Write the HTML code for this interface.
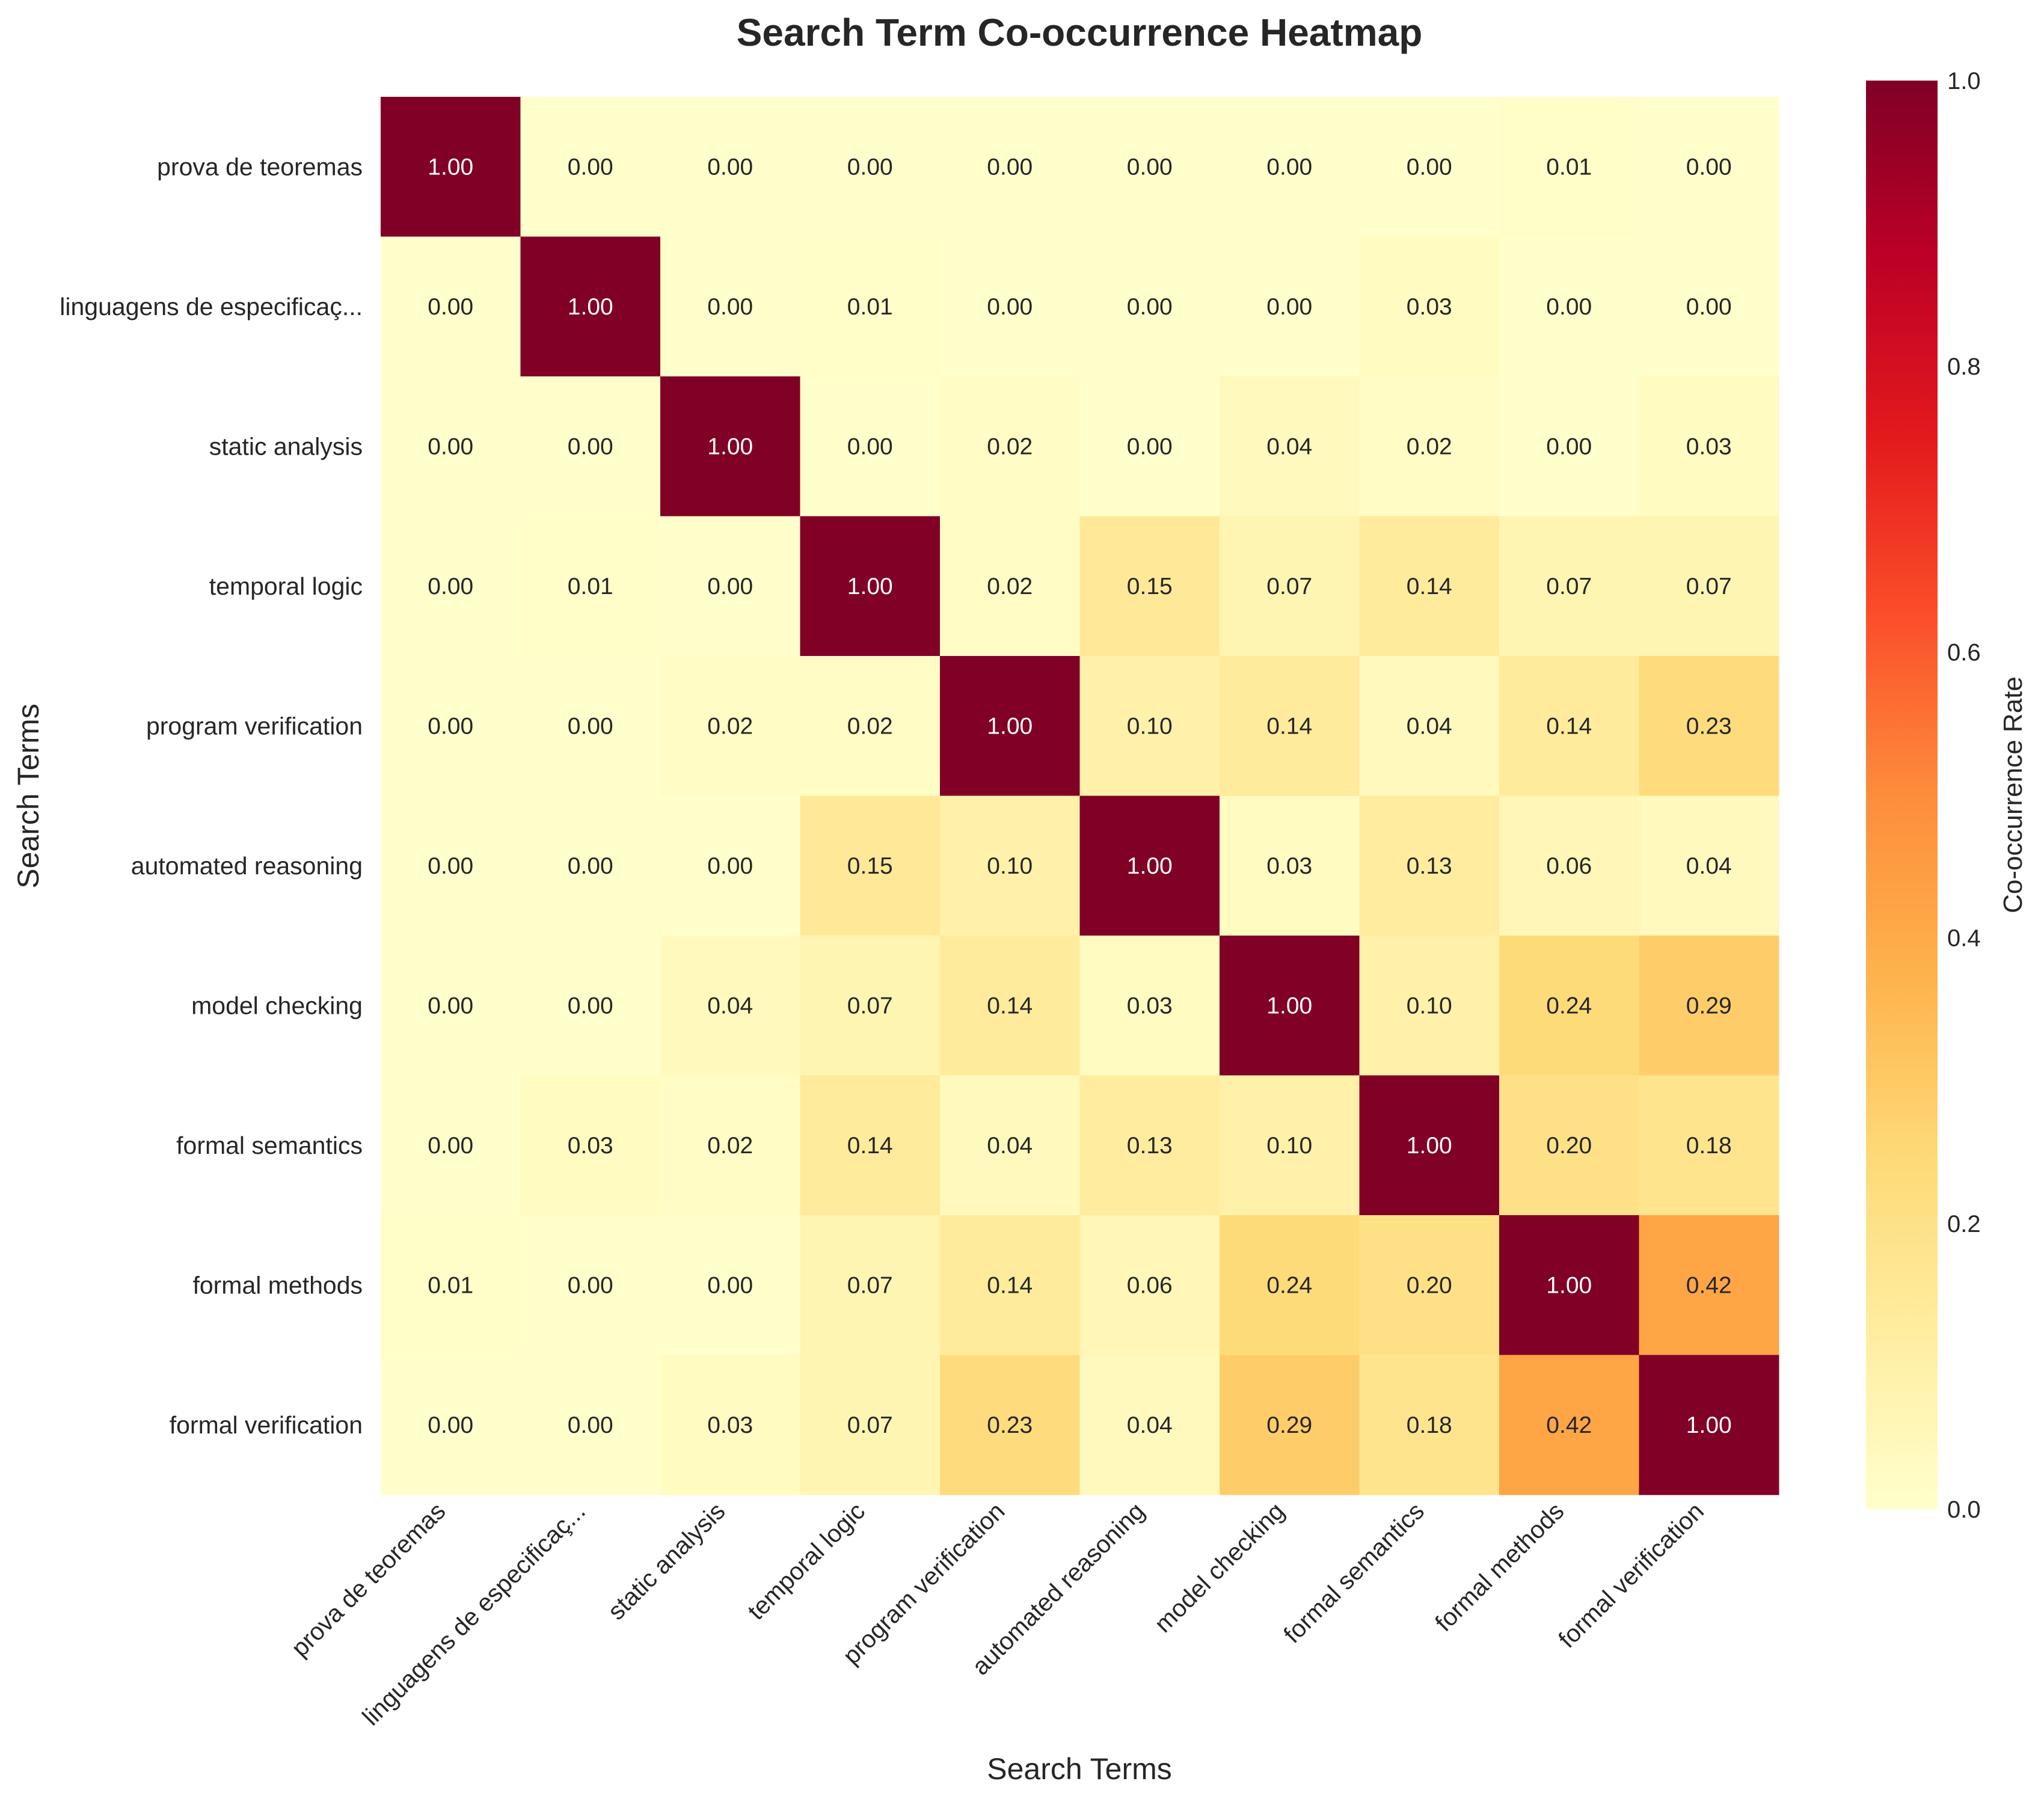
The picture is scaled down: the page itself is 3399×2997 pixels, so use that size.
<!DOCTYPE html>
<html><head><meta charset="utf-8"><style>
html,body{margin:0;padding:0;background:#fff;}
svg{display:block;font-family:"Liberation Sans",sans-serif;}
</style></head><body>
<svg id="chart" width="3399" height="2997" viewBox="0 0 3399 2997" xmlns="http://www.w3.org/2000/svg">
<defs><linearGradient id="cbgrad" x1="0" y1="1" x2="0" y2="0">
<stop offset="0" stop-color="#ffffcc"/><stop offset="0.125" stop-color="#ffeda0"/><stop offset="0.25" stop-color="#fed976"/><stop offset="0.375" stop-color="#feb24c"/><stop offset="0.5" stop-color="#fd8d3c"/><stop offset="0.625" stop-color="#fc4e2a"/><stop offset="0.75" stop-color="#e31a1c"/><stop offset="0.875" stop-color="#bd0026"/><stop offset="1" stop-color="#800026"/></linearGradient></defs>
<text x="1795" y="76" text-anchor="middle" font-size="64" font-weight="bold" fill="#262626">Search Term Co-occurrence Heatmap</text>
<g id="cells"></g>
<g id="xlabels"></g>
<g id="ylabels"></g>
<text x="1795" y="2959" text-anchor="middle" font-size="50" fill="#262626">Search Terms</text>
<text transform="translate(64,1324) rotate(-90)" text-anchor="middle" font-size="50" fill="#262626">Search Terms</text>
<rect x="3103" y="134" width="119" height="2376" fill="url(#cbgrad)"/>
<g id="cbticks"></g>
<text transform="translate(3362,1322) rotate(-90)" text-anchor="middle" font-size="44" fill="#262626">Co-occurrence Rate</text>
</svg>
<script>
const terms = ["prova de teoremas","linguagens de especificaç...","static analysis","temporal logic","program verification","automated reasoning","model checking","formal semantics","formal methods","formal verification"];
const values = [
[1.00,0.00,0.00,0.00,0.00,0.00,0.00,0.00,0.01,0.00],
[0.00,1.00,0.00,0.01,0.00,0.00,0.00,0.03,0.00,0.00],
[0.00,0.00,1.00,0.00,0.02,0.00,0.04,0.02,0.00,0.03],
[0.00,0.01,0.00,1.00,0.02,0.15,0.07,0.14,0.07,0.07],
[0.00,0.00,0.02,0.02,1.00,0.10,0.14,0.04,0.14,0.23],
[0.00,0.00,0.00,0.15,0.10,1.00,0.03,0.13,0.06,0.04],
[0.00,0.00,0.04,0.07,0.14,0.03,1.00,0.10,0.24,0.29],
[0.00,0.03,0.02,0.14,0.04,0.13,0.10,1.00,0.20,0.18],
[0.01,0.00,0.00,0.07,0.14,0.06,0.24,0.20,1.00,0.42],
[0.00,0.00,0.03,0.07,0.23,0.04,0.29,0.18,0.42,1.00]];
const cbTicks = [0,0.2,0.4,0.6,0.8,1.0];
const NS="http://www.w3.org/2000/svg";
const X0=633,X1=2958,Y0=161,Y1=2486, CB0=2510, CB1=134;
const n=terms.length, cw=(X1-X0)/n, ch=(Y1-Y0)/n;
const xs=i=>X0+i*cw, ys=i=>Y0+i*ch, cby=v=>CB0+(CB1-CB0)*v;
const stops=["#ffffcc","#ffeda0","#fed976","#feb24c","#fd8d3c","#fc4e2a","#e31a1c","#bd0026","#800026"].map(h=>[1,3,5].map(k=>parseInt(h.substr(k,2),16)));
function color(v){v=Math.max(0,Math.min(1,v));const p=v*8,i=Math.min(7,Math.floor(p)),t=p-i;const c=stops[i].map((a,k)=>Math.round(a+(stops[i+1][k]-a)*t));return `rgb(${c})`;}
function mk(tag,attrs,parent,txt){const e=document.createElementNS(NS,tag);for(const k in attrs)e.setAttribute(k,attrs[k]);if(txt!==undefined)e.textContent=txt;parent.appendChild(e);return e;}
const gc=document.getElementById('cells');
values.forEach((row,r)=>row.forEach((v,c)=>{
 const rect=mk('rect',{x:xs(c),y:ys(r),width:cw+0.5,height:ch+0.5,fill:color(v)},gc);
 
 
 const t=mk('text',{x:xs(c)+cw/2,y:ys(r)+ch/2+13,'text-anchor':'middle','font-size':39,fill:v>0.6?'#ffffff':'#262626'},gc,v.toFixed(2));
 
 
}));
const gx=document.getElementById('xlabels'),gy=document.getElementById('ylabels');
terms.forEach((s,i)=>{
 const cx=xs(i)+cw/2-6, cy=Y1+30;
 const t=mk('text',{transform:`translate(${cx},${cy}) rotate(-45)`,'text-anchor':'end','font-size':41,fill:'#262626'},gx,s);
 
 
 const u=mk('text',{x:X0-30,y:ys(i)+ch/2+14,'text-anchor':'end','font-size':41,fill:'#262626'},gy,s);
 
 
});
const gb=document.getElementById('cbticks');
cbTicks.forEach(v=>{
 const t=mk('text',{x:3238,y:cby(v)+14,'font-size':40,fill:'#262626'},gb,v.toFixed(1));
 
 
});
</script>
</body></html>
